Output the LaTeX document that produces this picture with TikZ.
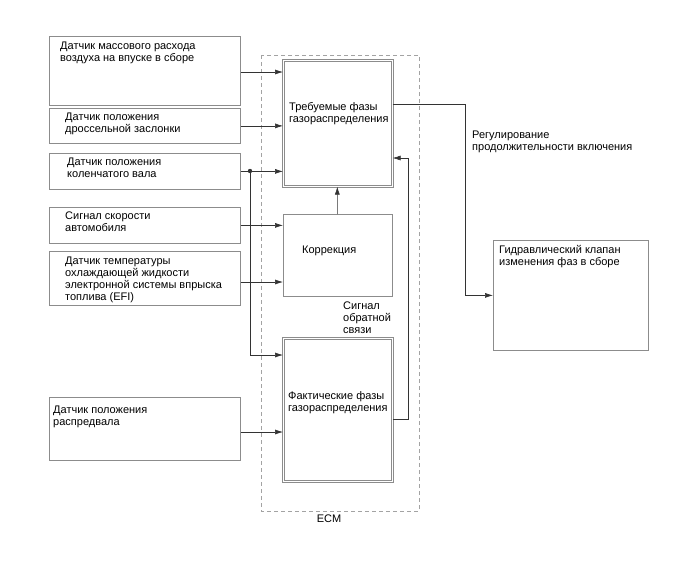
\documentclass[tikz,border=0pt]{standalone}
\usepackage{fontspec}
\setmainfont{Liberation Sans}
\usetikzlibrary{arrows.meta}
\definecolor{boxgray}{HTML}{8C8C8C}
\definecolor{linegray}{HTML}{333333}
\tikzset{
  srcbox/.style  = {draw=boxgray,thick,anchor=north west,minimum width=191pt,inner sep=0pt},
  ecubox/.style  = {draw=boxgray,anchor=north west,minimum width=109pt,inner sep=0pt},
  dblbox/.style  = {ecubox,double=white,double distance=1.6pt,line width=0.6pt},
  lbl/.style     = {anchor=north west,align=left,inner sep=0pt,font=\fontsize{11}{12}\selectfont},
  sig/.style     = {-{Latex[length=8pt,width=5pt]},linegray,semithick},
  ecmframe/.style= {draw=boxgray!80,dashed,dash pattern=on 4pt off 3pt,thick}
}
\begin{document}
\begin{tikzpicture}[x=1pt,y=-1pt]
  \useasboundingbox (0,0) rectangle (688,560);
  % ECM frame
  \draw[ecmframe] (261,55) rectangle (419,511);
  \node[font=\fontsize{11}{12}\selectfont] (ecm) at (329,519) {ECM};
  % sensors
  \node[srcbox,minimum height=69pt] (maf) at (49,36) {};
  \node[lbl] (maftxt) at (60,42) {Датчик массового расхода\\воздуха на впуске в сборе};
  \node[srcbox,minimum height=35pt] (tps) at (49,108) {};
  \node[lbl] (tpstxt) at (65,113) {Датчик положения\\дроссельной заслонки};
  \node[srcbox,minimum height=36pt] (ckp) at (49,153) {};
  \node[lbl] (ckptxt) at (67,158) {Датчик положения\\коленчатого вала};
  \node[srcbox,minimum height=36pt] (vss) at (49,207) {};
  \node[lbl] (vsstxt) at (65,212) {Сигнал скорости\\автомобиля};
  \node[srcbox,minimum height=54pt] (ect) at (49,251) {};
  \node[lbl] (ecttxt) at (65,257) {Датчик температуры\\охлаждающей жидкости\\электронной системы впрыска\\топлива (EFI)};
  \node[srcbox,minimum height=63pt] (cmp) at (49,397) {};
  \node[lbl] (cmptxt) at (53,406) {Датчик положения\\распредвала};
  % ECM blocks
  \node[dblbox,minimum height=126pt] (req) at (283,60) {};
  \node[lbl] (reqtxt) at (289,102) {Требуемые фазы\\газораспределения};
  \node[ecubox,thick,minimum height=82pt] (corr) at (283,214) {};
  \node[lbl] (corrtxt) at (302,246) {Коррекция};
  \node[dblbox,minimum height=143pt] (act) at (283,338) {};
  \node[lbl] (acttxt) at (288,391) {Фактические фазы\\газораспределения};
  \node[lbl] (fbtxt) at (343,302) {Сигнал\\обратной\\связи};
  % actuator
  \node[srcbox,minimum width=155pt,minimum height=110pt] (ocv) at (493,240) {};
  \node[lbl] (ocvtxt) at (499,245) {Гидравлический клапан\\изменения фаз в сборе};
  \node[lbl] (dutytxt) at (472,131) {Регулирование\\продолжительности включения};
  % inputs
  \draw[sig] (maf.east |- 0,72) -- (req.west |- 0,72);
  \draw[sig] (tps.east) -- (req.west |- tps.east);
  \draw[sig] (ckp.east) -- (req.west |- ckp.east);
  \coordinate (tap) at (250,171);
  \fill[linegray] (tap) circle (2.2pt);
  \draw[sig] (tap) -- (250,355) -- (act.west |- 0,355);
  \draw[sig] (vss.east) -- (corr.west |- vss.east);
  \draw[sig] (ect.east |- 0,282) -- (corr.west |- 0,282);
  \draw[sig] (cmp.east |- 0,432) -- (act.west |- 0,432);
  % inside ECM
  \draw[sig] ([xshift=-0.5pt]corr.north) -- ([xshift=-0.5pt]req.south);
  \draw[sig] (act.east |- 0,419) -- (408,419) -- (408,158) -- (req.east |- 0,158);
  % output
  \draw[sig] (req.east |- 0,104) -- (465,104) |- (ocv.west);
\end{tikzpicture}
\end{document}
